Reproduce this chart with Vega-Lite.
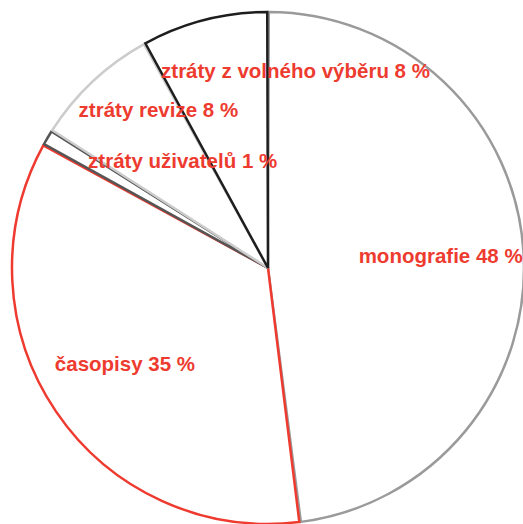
{
  "$schema": "https://vega.github.io/schema/vega-lite/v6.json",
  "width": 536,
  "height": 536,
  "autosize": "none",
  "padding": 0,
  "background": "white",
  "config": {"view": {"stroke": null}},
  "data": {
    "values": [
      {"idx": 1, "cat": "monografie", "pct": 48, "label": "monografie 48 %"},
      {"idx": 2, "cat": "časopisy", "pct": 35, "label": "časopisy 35 %"},
      {"idx": 3, "cat": "ztráty uživatelů", "pct": 1, "label": "ztráty uživatelů 1 %"},
      {"idx": 4, "cat": "ztráty revize", "pct": 8, "label": "ztráty revize 8 %"},
      {"idx": 5, "cat": "ztráty z volného výběru", "pct": 8, "label": "ztráty z volného výběru 8 %"}
    ]
  },
  "encoding": {
    "theta": {"field": "pct", "type": "quantitative", "stack": true},
    "order": {"field": "idx", "type": "quantitative"}
  },
  "layer": [
    {
      "mark": {"type": "arc", "fill": "white", "strokeWidth": 2.5, "radius": 256, "padAngle": 0.006},
      "encoding": {
        "stroke": {
          "field": "cat",
          "type": "nominal",
          "scale": {
            "domain": ["monografie", "časopisy", "ztráty uživatelů", "ztráty revize", "ztráty z volného výběru"],
            "range": ["#9a9a9a", "#ee3a2f", "#555555", "#cccccc", "#1e1e1e"]
          },
          "legend": null
        }
      }
    },
    {
      "mark": {"type": "text", "font": "Liberation Sans", "fontWeight": "bold", "fontSize": 20.5, "fill": "#ee3b2f", "baseline": "middle", "align": "center", "radius": 173},
      "encoding": {"text": {"value": "", "condition": {"test": "datum.idx <= 2", "field": "label"}}}
    },
    {
      "mark": {"type": "text", "font": "Liberation Sans", "fontWeight": "bold", "fontSize": 20.5, "fill": "#ee3b2f", "baseline": "middle", "align": "center", "radius": 127, "dx": 24, "dy": -41},
      "encoding": {"text": {"value": "", "condition": {"test": "datum.idx == 3", "field": "label"}}}
    },
    {
      "mark": {"type": "text", "font": "Liberation Sans", "fontWeight": "bold", "fontSize": 20.5, "fill": "#ee3b2f", "baseline": "middle", "align": "center", "radius": 185, "dx": 17, "dy": -22},
      "encoding": {"text": {"value": "", "condition": {"test": "datum.idx == 4", "field": "label"}}}
    },
    {
      "mark": {"type": "text", "font": "Liberation Sans", "fontWeight": "bold", "fontSize": 20.5, "fill": "#ee3b2f", "baseline": "middle", "align": "center", "radius": 183, "dx": 73, "dy": -19},
      "encoding": {"text": {"value": "", "condition": {"test": "datum.idx == 5", "field": "label"}}}
    }
  ]
}
